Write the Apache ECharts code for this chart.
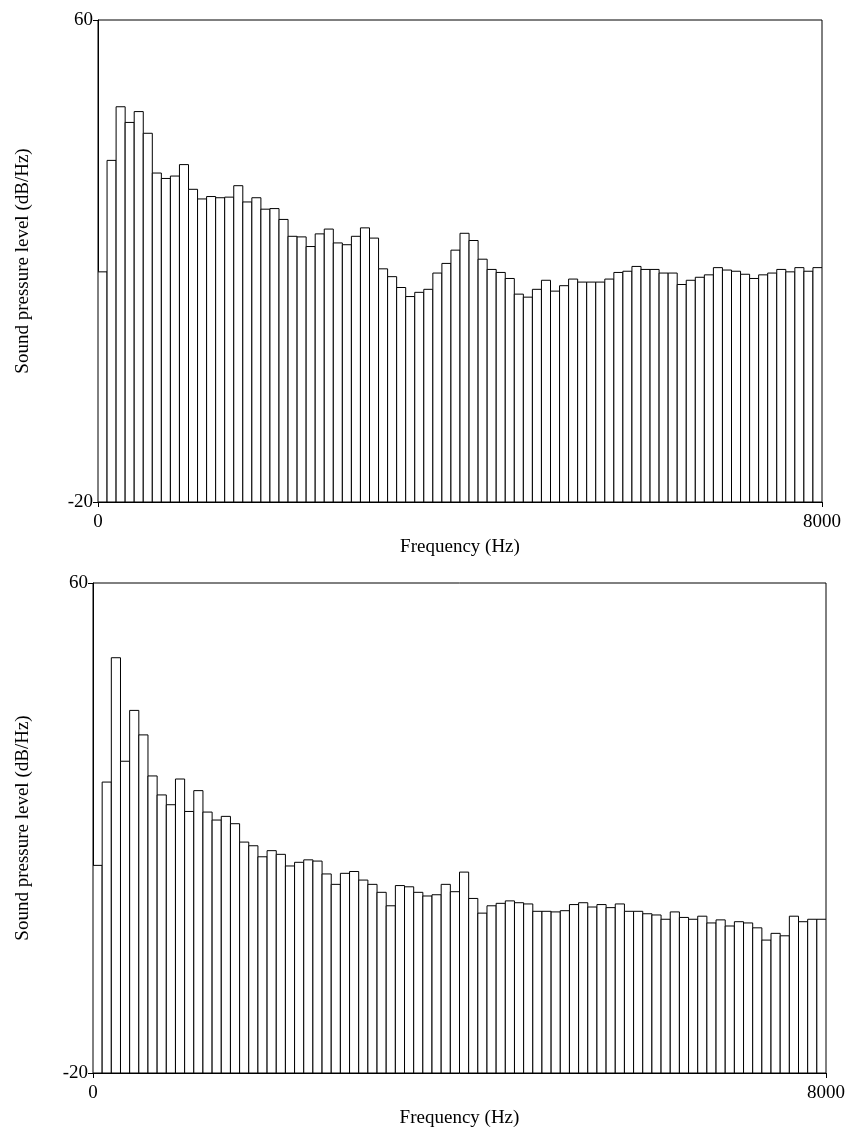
<!DOCTYPE html>
<html>
<head>
<meta charset="utf-8">
<script src="https://cdn.jsdelivr.net/npm/echarts@6/dist/echarts.min.js"></script>
<style>
html,body{margin:0;padding:0;background:#fff;}
#chart{width:849px;height:1129px;}
</style>
</head>
<body>
<div id="chart"></div>
<script>
// Frequency bins (Hz): each bar spans [start, start + 100)
const binStartsHz = [0,100,200,300,400,500,600,700,800,900,1000,1100,1200,1300,1400,1500,1600,1700,1800,1900,
  2000,2100,2200,2300,2400,2500,2600,2700,2800,2900,3000,3100,3200,3300,3400,3500,3600,3700,3800,3900,
  4000,4100,4200,4300,4400,4500,4600,4700,4800,4900,5000,5100,5200,5300,5400,5500,5600,5700,5800,5900,
  6000,6100,6200,6300,6400,6500,6600,6700,6800,6900,7000,7100,7200,7300,7400,7500,7600,7700,7800,7900];
const binWidthHz = 100;

// Sound pressure level (dB/Hz), upper panel
const levelsTop = [18.2,36.7,45.6,43.0,44.8,41.2,34.6,33.7,34.1,36.0,
  31.9,30.3,30.7,30.5,30.6,32.5,29.8,30.5,28.6,28.7,
  26.9,24.1,24.0,22.4,24.5,25.3,23.0,22.7,24.1,25.5,
  23.8,18.7,17.4,15.6,14.1,14.8,15.3,18.0,19.6,21.8,
  24.6,23.4,20.3,18.6,18.1,17.1,14.5,14.0,15.3,16.8,
  15.0,15.9,17.0,16.5,16.5,16.5,17.0,18.1,18.3,19.1,
  18.6,18.6,18.0,18.0,16.1,16.8,17.3,17.7,18.9,18.5,
  18.3,17.8,17.1,17.7,18.0,18.6,18.2,18.9,18.3,18.9];

// Sound pressure level (dB/Hz), lower panel
const levelsBottom = [13.9,27.5,47.8,30.9,39.2,35.2,28.5,25.4,23.8,28.0,
  22.7,26.1,22.6,21.3,21.9,20.7,17.7,17.1,15.3,16.3,
  15.7,13.8,14.4,14.8,14.6,12.5,10.8,12.6,12.9,11.5,
  10.8,9.5,7.3,10.6,10.4,9.5,8.9,9.1,10.8,9.6,
  12.8,8.5,6.1,7.3,7.7,8.1,7.8,7.6,6.4,6.4,
  6.3,6.5,7.5,7.8,7.1,7.5,7.0,7.6,6.4,6.4,
  6.0,5.8,5.1,6.3,5.4,5.1,5.6,4.5,5.0,4.0,
  4.7,4.5,3.7,1.7,2.8,2.4,5.6,4.7,5.1,5.1];

const yMin = -20, yMax = 60;
const xMin = 0, xMax = 8000;
const yTickValues = [-20, 60];
const xTickValues = [0, 8000];
const xTitle = 'Frequency (Hz)';
const yTitle = 'Sound pressure level (dB/Hz)';

const FONT = '"Liberation Serif", "DejaVu Serif", serif';
const FS = 19;

function toRows(levels) {
  return levels.map((v, i) => [binStartsHz[i], binStartsHz[i] + binWidthHz, v]);
}

function renderBar(params, api) {
  const x0 = api.value(0), x1 = api.value(1), v = api.value(2);
  const pTop = api.coord([x0, v]);
  const pBot = api.coord([x1, yMin]);
  return {
    type: 'rect',
    shape: { x: pTop[0], y: pTop[1], width: pBot[0] - pTop[0], height: pBot[1] - pTop[1] },
    style: { fill: '#ffffff', stroke: '#000000', lineWidth: 1 }
  };
}

function xAxisCfg(gridIndex) {
  return {
    type: 'value', gridIndex, min: xMin, max: xMax, interval: 8000,
    name: xTitle, nameLocation: 'middle', nameGap: 36, nameMoveOverlap: false,
    nameTextStyle: { fontFamily: FONT, fontSize: FS, color: '#000', verticalAlign: 'top' },
    axisLine: { show: true, onZero: false, lineStyle: { color: '#000', width: 1 } },
    axisTick: { show: true, length: 5, inside: false, lineStyle: { color: '#000' } },
    axisLabel: { show: true, margin: 11, fontFamily: FONT, fontSize: FS, color: '#000',
      customValues: xTickValues, formatter: (v) => String(v) },
    splitLine: { show: false }
  };
}

function yAxisCfg(gridIndex, gap) {
  return {
    type: 'value', gridIndex, min: yMin, max: yMax,
    name: yTitle, nameLocation: 'middle', nameGap: gap, nameRotate: 90,
    nameTextStyle: { fontFamily: FONT, fontSize: FS, color: '#000' },
    axisLine: { show: true, onZero: false, lineStyle: { color: '#000', width: 1 } },
    axisTick: { show: true, length: 5, inside: false, lineStyle: { color: '#000' },
      customValues: yTickValues },
    axisLabel: { show: true, margin: 5, fontFamily: FONT, fontSize: FS, color: '#000',
      padding: [4, 0, 0, 0],
      customValues: yTickValues, formatter: (v) => String(v) },
    splitLine: { show: false }
  };
}

const chart = echarts.init(document.getElementById('chart'), null, { renderer: 'canvas' });
chart.setOption({
  backgroundColor: '#ffffff',
  animation: false,
  grid: [
    { left: 98, top: 20, width: 724, height: 482, show: true, borderColor: '#000', borderWidth: 1, backgroundColor: 'transparent' },
    { left: 93, top: 583, width: 733, height: 490, show: true, borderColor: '#000', borderWidth: 1, backgroundColor: 'transparent' }
  ],
  xAxis: [xAxisCfg(0), xAxisCfg(1)],
  yAxis: [yAxisCfg(0, 65), yAxisCfg(1, 60)],
  series: [
    { type: 'custom', xAxisIndex: 0, yAxisIndex: 0, renderItem: renderBar,
      encode: { x: [0, 1], y: 2 }, data: toRows(levelsTop), clip: true },
    { type: 'custom', xAxisIndex: 1, yAxisIndex: 1, renderItem: renderBar,
      encode: { x: [0, 1], y: 2 }, data: toRows(levelsBottom), clip: true }
  ]
});
</script>
</body>
</html>
